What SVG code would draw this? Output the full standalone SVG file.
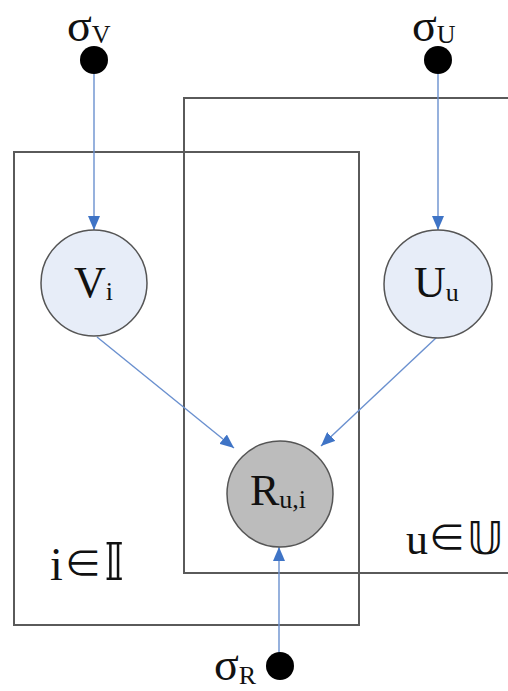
<svg xmlns="http://www.w3.org/2000/svg" width="508" height="691" viewBox="0 0 508 691">
<style>
.plate{fill:none;stroke:#5a5a5a;stroke-width:2}
.dot{fill:#000}
.lat{fill:#e7edf8;stroke:#555;stroke-width:1.5}
.obs{fill:#bcbcbc;stroke:#555;stroke-width:1.5}
.edge{stroke:#6a90cf;stroke-width:1.4;fill:none}
.t{font-family:"Liberation Serif","DejaVu Serif",serif;fill:#111}
.big{font-size:44px}
.sig{font-size:46px}
.sub{font-size:26px}
.el{font-family:"Noto Sans CJK JP","DejaVu Serif",serif;font-size:38px}
.ds{font-family:"DejaVu Sans","DejaVu Serif",sans-serif;font-weight:normal}
</style>
<defs>
<marker id="a" viewBox="0 0 14 12" refX="14" refY="6" markerWidth="14" markerHeight="12" markerUnits="userSpaceOnUse" orient="auto">
<path d="M0,0 L14,6 L0,12 z" fill="#3f74c6"/>
</marker>
</defs>
<g id="plate-I"><rect class="plate" x="14" y="152" width="345" height="473"/><text class="t" y="580"><tspan x="50" font-size="46">i</tspan><tspan class="el" x="64" dy="-3">∈</tspan><tspan class="ds" x="104" dy="3" font-size="52">𝕀</tspan></text></g>
<g id="plate-U"><rect class="plate" x="184" y="98" width="340" height="475"/><text class="t" y="554"><tspan x="406" font-size="44">u</tspan><tspan class="el" x="428" dy="-3">∈</tspan><tspan class="ds" x="467" dy="3" font-size="44">𝕌</tspan></text></g>
<g id="connectors">
<line class="edge" x1="94" y1="74" x2="94" y2="230" marker-end="url(#a)"/>
<line class="edge" x1="438" y1="74" x2="438" y2="230" marker-end="url(#a)"/>
<line class="edge" x1="97" y1="337" x2="234" y2="448" marker-end="url(#a)"/>
<line class="edge" x1="437" y1="337" x2="321" y2="446" marker-end="url(#a)"/>
<line class="edge" x1="279" y1="653" x2="279" y2="547" marker-end="url(#a)"/>
</g>
<g id="sigmaV"><circle class="dot" cx="94" cy="60" r="14"/><text class="t" x="67" y="41"><tspan class="sig">σ</tspan><tspan class="sub" dy="2">V</tspan></text></g>
<g id="sigmaU"><circle class="dot" cx="438" cy="60" r="14"/><text class="t" x="412" y="41"><tspan class="sig">σ</tspan><tspan class="sub" dy="2">U</tspan></text></g>
<g id="sigmaR"><circle class="dot" cx="280" cy="666" r="14"/><text class="t" x="214" y="680"><tspan class="sig">σ</tspan><tspan class="sub" dy="4">R</tspan></text></g>
<g id="V"><circle class="lat" cx="94" cy="283" r="53"/><text class="t" x="74" y="297"><tspan class="big">V</tspan><tspan class="sub" dy="3">i</tspan></text></g>
<g id="U"><circle class="lat" cx="438" cy="284" r="54"/><text class="t" x="414" y="297"><tspan class="big">U</tspan><tspan class="sub" dy="4">u</tspan></text></g>
<g id="R"><circle class="obs" cx="280" cy="494" r="53"/><text class="t" x="250" y="505"><tspan class="big">R</tspan><tspan class="sub" dy="3">u,i</tspan></text></g>
</svg>
